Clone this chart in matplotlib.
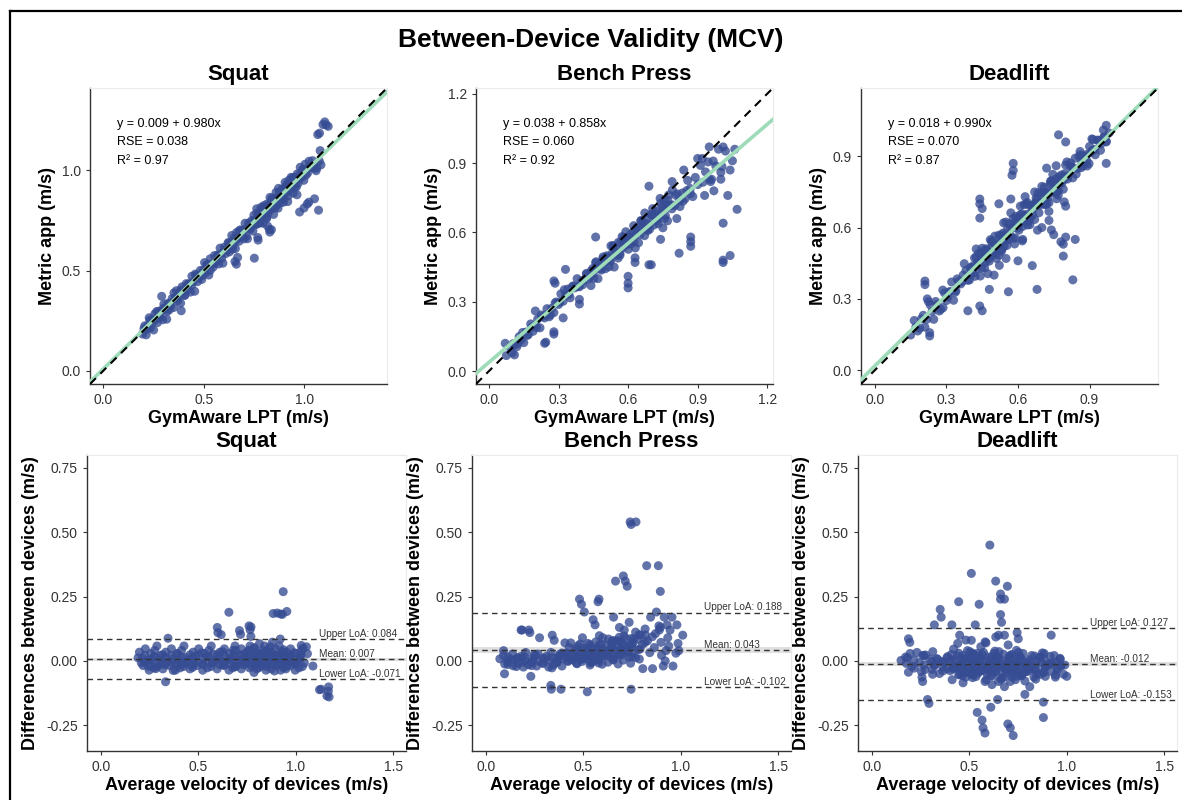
import numpy as np
import matplotlib
matplotlib.use('Agg')
import matplotlib.pyplot as plt
from matplotlib.lines import Line2D

plt.rcParams['font.family'] = ['Liberation Sans', 'DejaVu Sans']
plt.rcParams['axes.unicode_minus'] = False

POINT_COLOR = '#364C93'
FIT_COLOR = '#9DDBB9'
LINE_GRAY = '#333333'

exercises = ['Squat', 'Bench Press', 'Deadlift']

# mean concentric velocity (m/s): GymAware LPT vs Metric app
squat_gym = [0.196, 0.207, 0.214, 0.221, 0.229, 0.236, 0.244, 0.251, 0.257, 0.263, 0.270, 0.276, 0.283, 0.289, 0.296, 0.302, 0.309, 0.316, 0.322, 0.329,
             0.336, 0.343, 0.350, 0.357, 0.364, 0.371, 0.378, 0.385, 0.392, 0.399, 0.406, 0.413, 0.420, 0.427, 0.434, 0.441, 0.448, 0.455, 0.462, 0.469,
             0.476, 0.483, 0.490, 0.497, 0.504, 0.511, 0.518, 0.525, 0.532, 0.539, 0.546, 0.553, 0.560, 0.567, 0.574, 0.581, 0.588, 0.595, 0.602, 0.609,
             0.615, 0.621, 0.627, 0.633, 0.639, 0.645, 0.651, 0.657, 0.663, 0.669, 0.675, 0.681, 0.687, 0.693, 0.699, 0.705, 0.711, 0.717, 0.723, 0.729,
             0.734, 0.739, 0.744, 0.749, 0.754, 0.759, 0.764, 0.769, 0.774, 0.779, 0.784, 0.789, 0.794, 0.799, 0.804, 0.809, 0.814, 0.819, 0.824, 0.829,
             0.834, 0.839, 0.844, 0.849, 0.854, 0.859, 0.864, 0.869, 0.874, 0.879, 0.884, 0.889, 0.894, 0.899, 0.904, 0.909, 0.914, 0.919, 0.924, 0.929,
             0.934, 0.939, 0.944, 0.949, 0.954, 0.959, 0.964, 0.969, 0.974, 0.979, 0.985, 0.991, 0.997, 1.003, 1.009, 1.016, 1.023, 1.031, 1.040, 1.050,
             0.752, 0.763, 0.776, 0.787, 0.798, 0.812, 0.823, 0.836, 0.847, 0.858, 0.871, 0.882, 0.893, 0.906, 0.917, 0.928, 0.941, 0.952, 0.963, 0.976,
             0.553, 0.571, 0.589, 0.607, 0.624, 0.642, 0.659, 0.676, 0.694, 0.711, 0.728, 0.746, 0.762, 0.779, 0.796, 0.813, 0.830, 0.846, 0.863, 0.880,
             0.896, 0.912, 0.928, 0.944, 0.960, 0.976, 0.992, 1.008, 1.024, 1.040,
             0.203, 0.218, 0.232, 0.248, 0.266, 0.281, 0.299, 0.318, 0.333, 0.352, 0.368, 0.387, 0.404, 0.422, 0.440, 0.458, 0.477, 0.495, 0.514, 0.532,
             0.388, 0.291, 0.662, 0.655, 0.668, 0.828, 0.836, 0.770, 0.768, 0.751, 0.817, 0.826, 0.976, 0.998, 1.014, 1.022, 1.050, 1.070, 1.066, 1.075,
             1.092, 1.101, 1.108, 1.118, 1.058, 1.062, 1.074, 1.078, 1.082]
squat_app = [0.184, 0.225, 0.180, 0.225, 0.265, 0.215, 0.255, 0.204, 0.284, 0.258, 0.241, 0.298, 0.267, 0.297, 0.255, 0.333, 0.307, 0.258, 0.337, 0.305,
             0.324, 0.361, 0.316, 0.361, 0.400, 0.350, 0.389, 0.338, 0.419, 0.394, 0.377, 0.435, 0.404, 0.435, 0.393, 0.472, 0.446, 0.397, 0.477, 0.445,
             0.464, 0.501, 0.456, 0.501, 0.540, 0.490, 0.529, 0.478, 0.559, 0.534, 0.517, 0.575, 0.544, 0.575, 0.533, 0.612, 0.586, 0.537, 0.617, 0.585,
             0.603, 0.639, 0.593, 0.637, 0.675, 0.624, 0.662, 0.610, 0.690, 0.664, 0.646, 0.703, 0.671, 0.701, 0.658, 0.736, 0.709, 0.659, 0.738, 0.705,
             0.713, 0.750, 0.697, 0.776, 0.749, 0.730, 0.786, 0.753, 0.782, 0.738, 0.815, 0.787, 0.736, 0.814, 0.780, 0.797, 0.832, 0.785, 0.828, 0.865,
             0.805, 0.861, 0.828, 0.857, 0.813, 0.890, 0.862, 0.811, 0.889, 0.855, 0.872, 0.907, 0.860, 0.903, 0.940, 0.888, 0.925, 0.872, 0.951, 0.924,
             0.965, 0.937, 0.886, 0.964, 0.930, 0.947, 0.982, 0.935, 0.978, 1.015, 0.964, 1.002, 0.950, 1.030, 1.004, 0.987, 1.045, 1.015, 1.048, 1.009,
             0.749, 0.808, 0.738, 0.770, 0.824, 0.760, 0.815, 0.850, 0.780, 0.832, 0.910, 0.838, 0.882, 0.912, 0.844, 0.909, 0.962, 0.916, 0.878, 0.962,
             0.535, 0.577, 0.562, 0.604, 0.639, 0.606, 0.650, 0.697, 0.672, 0.670, 0.731, 0.732, 0.731, 0.791, 0.790, 0.765, 0.811, 0.854, 0.828, 0.869,
             0.841, 0.929, 0.902, 0.942, 0.917, 0.961, 1.002, 0.976, 1.017, 1.016,
             0.211, 0.207, 0.253, 0.244, 0.296, 0.265, 0.312, 0.296, 0.337, 0.389, 0.360, 0.404, 0.377, 0.431, 0.427, 0.483, 0.474, 0.476, 0.528, 0.501,
             0.300, 0.372, 0.532, 0.545, 0.566, 0.692, 0.704, 0.652, 0.665, 0.562, 0.722, 0.705, 0.792, 0.812, 0.832, 0.841, 0.858, 0.801, 1.178, 1.185,
             1.228, 1.241, 1.226, 1.219, 0.998, 1.012, 1.046, 1.098, 1.027]

bench_gym = [0.075, 0.090, 0.100, 0.110, 0.120, 0.130, 0.140, 0.150, 0.160, 0.170, 0.180, 0.190, 0.200, 0.210, 0.220, 0.230, 0.240, 0.250, 0.260, 0.270,
             0.280, 0.290, 0.300, 0.310, 0.320, 0.330, 0.340, 0.350, 0.360, 0.370, 0.380, 0.390, 0.400, 0.410, 0.420, 0.430, 0.440, 0.450, 0.460, 0.470,
             0.480, 0.491, 0.502, 0.513, 0.524, 0.535, 0.546, 0.557, 0.568, 0.579, 0.590,
             0.601, 0.611, 0.621, 0.631, 0.641, 0.651, 0.661, 0.671, 0.681, 0.691, 0.701, 0.711, 0.721, 0.731, 0.741, 0.751, 0.761, 0.771, 0.781, 0.791,
             0.505, 0.520, 0.535, 0.550, 0.565, 0.580, 0.595, 0.610, 0.625, 0.640, 0.655, 0.670, 0.685, 0.700, 0.715, 0.730, 0.745, 0.760, 0.775, 0.790,
             0.802, 0.813, 0.824, 0.835, 0.846, 0.857, 0.868, 0.879, 0.890, 0.901, 0.912, 0.923, 0.934, 0.945, 0.956, 0.967, 0.978, 0.990, 1.005, 1.020,
             0.405, 0.421, 0.437, 0.453, 0.469, 0.485, 0.501, 0.517, 0.533, 0.549, 0.565, 0.581, 0.597, 0.613, 0.629, 0.645, 0.661, 0.677, 0.693, 0.709,
             0.725, 0.741, 0.757, 0.773, 0.789, 0.805, 0.821, 0.837, 0.853, 0.869,
             0.448, 0.462, 0.476, 0.492, 0.508, 0.526, 0.542, 0.558, 0.574, 0.588, 0.606, 0.624, 0.638, 0.656, 0.672, 0.688, 0.706, 0.722, 0.738, 0.756,
             0.105, 0.125, 0.145, 0.165, 0.185, 0.205, 0.225, 0.245, 0.265, 0.285, 0.305, 0.325, 0.345, 0.365, 0.385,
             0.07, 0.11, 0.24, 0.245, 0.28, 0.28, 0.32, 0.28, 0.285, 0.33, 0.39, 0.39, 0.20, 0.46, 0.44, 0.47, 0.54, 0.60, 0.60, 0.60,
             0.63, 0.63, 0.69, 0.69, 0.70, 0.82, 0.87, 0.87, 0.87, 0.79, 0.84, 0.90, 0.92, 0.95, 1.01, 1.06, 1.05, 1.04, 1.00, 1.00,
             0.93, 0.97, 1.03, 1.01, 1.01, 1.01, 1.04, 1.07, 0.96, 0.95, 0.74, 0.75, 0.81, 0.77]
bench_app = [0.067, 0.102, 0.079, 0.113, 0.105, 0.149, 0.136, 0.123, 0.169, 0.158, 0.204, 0.172, 0.199, 0.225, 0.187, 0.236, 0.230, 0.270, 0.235, 0.271,
             0.253, 0.299, 0.288, 0.334, 0.302, 0.329, 0.355, 0.317, 0.366, 0.360, 0.400, 0.365, 0.391, 0.392, 0.422, 0.399, 0.433, 0.425, 0.469, 0.456,
             0.442, 0.485, 0.443, 0.493, 0.475, 0.540, 0.515, 0.489, 0.557, 0.535, 0.603,
             0.527, 0.564, 0.600, 0.533, 0.606, 0.590, 0.648, 0.586, 0.638, 0.633, 0.675, 0.632, 0.681, 0.662, 0.726, 0.700, 0.673, 0.740, 0.717, 0.784,
             0.493, 0.479, 0.543, 0.523, 0.510, 0.577, 0.559, 0.592, 0.559, 0.611, 0.651, 0.618, 0.608, 0.679, 0.669, 0.638, 0.711, 0.702, 0.762, 0.719,
             0.716, 0.767, 0.712, 0.771, 0.746, 0.825, 0.790, 0.755, 0.838, 0.807, 0.890, 0.817, 0.862, 0.905, 0.820, 0.909, 0.888, 0.960, 0.885, 0.952,
             0.374, 0.420, 0.409, 0.401, 0.453, 0.437, 0.474, 0.451, 0.513, 0.501, 0.501, 0.563, 0.548, 0.550, 0.587, 0.555, 0.620, 0.613, 0.614, 0.670,
             0.650, 0.677, 0.660, 0.720, 0.702, 0.761, 0.737, 0.735, 0.781, 0.768,
             0.444, 0.473, 0.461, 0.494, 0.499, 0.542, 0.521, 0.557, 0.582, 0.575, 0.579, 0.629, 0.620, 0.650, 0.684, 0.664, 0.703, 0.691, 0.747, 0.740,
             0.119, 0.119, 0.167, 0.154, 0.190, 0.188, 0.243, 0.242, 0.243, 0.294, 0.297, 0.352, 0.332, 0.369, 0.366,
             0.12, 0.07, 0.12, 0.125, 0.16, 0.17, 0.23, 0.39, 0.38, 0.44, 0.29, 0.31, 0.26, 0.58, 0.37, 0.40, 0.45, 0.41, 0.38, 0.36,
             0.49, 0.47, 0.80, 0.46, 0.46, 0.51, 0.58, 0.56, 0.54, 0.82, 0.87, 0.92, 0.92, 0.97, 0.97, 0.96, 0.91, 0.87, 0.83, 0.86,
             0.76, 0.78, 0.76, 0.64, 0.48, 0.47, 0.50, 0.70, 0.83, 0.83, 0.57, 0.62, 0.66, 0.65]

dead_gym = [0.150, 0.165, 0.180, 0.195, 0.210, 0.225, 0.240, 0.255, 0.270, 0.285, 0.300, 0.315, 0.330, 0.345, 0.360, 0.375, 0.390, 0.405, 0.420, 0.435,
            0.45, 0.46, 0.47, 0.48, 0.49, 0.50, 0.51, 0.52, 0.53, 0.54, 0.55, 0.56, 0.57, 0.58, 0.59, 0.60, 0.61, 0.62, 0.63, 0.64,
            0.65, 0.66, 0.67, 0.68, 0.69, 0.70, 0.71, 0.72, 0.73, 0.74, 0.75, 0.76, 0.77, 0.78, 0.79, 0.80, 0.81, 0.82, 0.83, 0.84,
            0.850, 0.862, 0.874, 0.886, 0.898, 0.910, 0.922, 0.934, 0.946, 0.958, 0.970, 0.982,
            0.425, 0.442, 0.458, 0.474, 0.490, 0.506, 0.522, 0.538, 0.554, 0.570, 0.586, 0.602, 0.618, 0.634, 0.650, 0.666, 0.682, 0.698, 0.714, 0.730,
            0.746, 0.762, 0.778, 0.794,
            0.310, 0.340, 0.370, 0.400, 0.430, 0.465, 0.495, 0.525, 0.555, 0.585, 0.615, 0.645, 0.675, 0.705, 0.735, 0.765, 0.795, 0.825, 0.865, 0.905,
            0.400, 0.412, 0.424, 0.436, 0.448, 0.460, 0.472, 0.484, 0.496, 0.508, 0.520, 0.532, 0.544, 0.556, 0.568, 0.580, 0.592, 0.604, 0.616, 0.628,
            0.640, 0.652, 0.664, 0.676, 0.688, 0.700, 0.712, 0.724, 0.736, 0.748, 0.760, 0.772, 0.784, 0.796, 0.808, 0.820, 0.832, 0.844, 0.856, 0.868,
            0.455, 0.467, 0.478, 0.489, 0.503, 0.515, 0.527, 0.541, 0.553, 0.565, 0.577, 0.589, 0.601, 0.613, 0.625,
            0.637, 0.649, 0.661, 0.673, 0.685, 0.697, 0.709, 0.721, 0.733, 0.745, 0.757, 0.769, 0.781, 0.793, 0.805,
            0.172, 0.188, 0.203, 0.218, 0.233, 0.262, 0.277, 0.292, 0.307, 0.322, 0.337, 0.352, 0.367, 0.382, 0.397, 0.412, 0.418, 0.427, 0.438, 0.446,
            0.876, 0.888, 0.900, 0.912, 0.924, 0.936, 0.948, 0.960, 0.890, 0.915,
            0.21, 0.21, 0.22, 0.23, 0.23, 0.247, 0.286, 0.39, 0.44, 0.44, 0.44, 0.44, 0.45, 0.45, 0.48, 0.50, 0.52, 0.56, 0.57, 0.58,
            0.58, 0.575, 0.60, 0.66, 0.68, 0.72, 0.74, 0.75, 0.76, 0.77, 0.78, 0.79, 0.79, 0.80, 0.80, 0.80, 0.83, 0.84, 0.97, 0.97,
            0.96, 0.97, 0.86, 0.88, 0.70, 0.73, 0.62, 0.55, 0.53, 0.51, 0.46, 0.61, 0.63, 0.54, 0.71, 0.67]
dead_app = [0.148, 0.209, 0.165, 0.216, 0.181, 0.288, 0.247, 0.289, 0.249, 0.337, 0.293, 0.331, 0.294, 0.384, 0.363, 0.448, 0.378, 0.432, 0.395, 0.492,
            0.513, 0.467, 0.504, 0.459, 0.542, 0.493, 0.526, 0.484, 0.569, 0.543, 0.623, 0.548, 0.597, 0.555, 0.647, 0.598, 0.654, 0.605, 0.651, 0.611,
            0.643, 0.676, 0.634, 0.719, 0.693, 0.773, 0.698, 0.747, 0.705, 0.797, 0.748, 0.804, 0.755, 0.801, 0.761, 0.863, 0.817, 0.854, 0.809, 0.892,
            0.848, 0.906, 0.859, 0.907, 0.869, 0.973, 0.929, 0.968, 0.925, 1.010, 0.963, 0.998,
            0.510, 0.396, 0.479, 0.406, 0.544, 0.494, 0.441, 0.577, 0.525, 0.662, 0.531, 0.610, 0.544, 0.700, 0.612, 0.697, 0.589, 0.745, 0.697, 0.668,
            0.824, 0.721, 0.790, 0.708,
            0.328, 0.334, 0.400, 0.402, 0.454, 0.454, 0.536, 0.534, 0.551, 0.621, 0.630, 0.627, 0.702, 0.710, 0.782, 0.756, 0.816, 0.858, 0.852, 0.916,
            0.431, 0.408, 0.476, 0.452, 0.429, 0.503, 0.479, 0.549, 0.485, 0.532, 0.568, 0.506, 0.556, 0.593, 0.567, 0.638, 0.612, 0.589, 0.657, 0.631,
            0.705, 0.641, 0.688, 0.724, 0.662, 0.712, 0.749, 0.723, 0.794, 0.768, 0.745, 0.813, 0.787, 0.827, 0.804, 0.872, 0.848, 0.825, 0.899, 0.875,
            0.474, 0.511, 0.470, 0.517, 0.564, 0.520, 0.563, 0.520, 0.566, 0.615, 0.599, 0.556, 0.641, 0.622, 0.696,
            0.656, 0.693, 0.653, 0.701, 0.746, 0.702, 0.745, 0.700, 0.746, 0.795, 0.779, 0.736, 0.821, 0.802, 0.876,
            0.182, 0.176, 0.231, 0.214, 0.274, 0.277, 0.256, 0.325, 0.309, 0.371, 0.328, 0.374, 0.373, 0.420, 0.380, 0.439, 0.472, 0.425, 0.456, 0.490,
            0.898, 0.882, 0.941, 0.924, 0.906, 0.966, 0.952, 0.979, 0.859, 0.970,
            0.36, 0.375, 0.30, 0.144, 0.158, 0.214, 0.263, 0.25, 0.72, 0.70, 0.64, 0.27, 0.25, 0.68, 0.34, 0.40, 0.70, 0.33, 0.72, 0.84,
            0.87, 0.82, 0.46, 0.44, 0.34, 0.85, 0.59, 0.57, 0.86, 0.99, 0.54, 0.53, 0.48, 0.96, 0.56, 0.69, 0.38, 0.55, 0.87, 1.03,
            0.98, 0.96, 0.92, 0.90, 0.60, 0.63, 0.55, 0.47, 0.50, 0.47, 0.43, 0.69, 0.73, 0.62, 0.77, 0.75]

# regression fits printed on the chart
intercepts = [0.009, 0.038, 0.018]
slopes = [0.980, 0.858, 0.990]
rse = [0.038, 0.060, 0.070]
r2 = [0.97, 0.92, 0.87]

# Bland-Altman summary printed on the chart
mean_diff = [0.007, 0.043, -0.012]
upper_loa = [0.084, 0.188, 0.127]
lower_loa = [-0.071, -0.102, -0.153]
mean_ci = [0.006, 0.011, 0.009]

top_lims = [(-0.065, 1.41), (-0.056, 1.225), (-0.058, 1.187)]
top_ticks = [[0.0, 0.5, 1.0], [0.0, 0.3, 0.6, 0.9, 1.2], [0.0, 0.3, 0.6, 0.9]]

gym = [np.array(squat_gym), np.array(bench_gym), np.array(dead_gym)]
app = [np.array(squat_app), np.array(bench_app), np.array(dead_app)]

W, H = 1182, 800
fig = plt.figure(figsize=(W / 100, H / 100), dpi=100)

def px_axes(left, top, width, height):
    return fig.add_axes([left / W, 1 - (top + height) / H, width / W, height / H])

def style(ax):
    for side in ['left', 'bottom']:
        ax.spines[side].set_color(LINE_GRAY)
        ax.spines[side].set_linewidth(1.0)
    for side in ['top', 'right']:
        ax.spines[side].set_color('#EBEBEB')
        ax.spines[side].set_linewidth(0.8)
    ax.tick_params(colors=LINE_GRAY, labelcolor='#333333', labelsize=10, length=3, width=0.8)

top_left = [90, 476, 861]
bot_left = [87, 472, 858]

for i in range(3):
    ax = px_axes(top_left[i], 88, 297, 296)
    style(ax)
    x, y = gym[i], app[i]
    ax.scatter(x, y, s=42, color=POINT_COLOR, alpha=0.78, edgecolors='none', zorder=2)
    ax.axline((0, intercepts[i]), slope=slopes[i], color=FIT_COLOR, lw=2.6, zorder=3)
    ax.axline((0, 0), slope=1, color='black', lw=1.5, ls=(0, (4, 3)), zorder=4)
    ax.set_xlim(*top_lims[i])
    ax.set_ylim(*top_lims[i])
    ax.set_xticks(top_ticks[i])
    ax.set_yticks(top_ticks[i])
    ax.xaxis.set_major_formatter('{x:.1f}')
    ax.yaxis.set_major_formatter('{x:.1f}')
    ax.set_title(exercises[i], fontsize=16, fontweight='bold', pad=6)
    ax.set_xlabel('GymAware LPT (m/s)', fontsize=13, fontweight='bold', labelpad=2)
    ax.set_ylabel('Metric app (m/s)', fontsize=13, fontweight='bold', labelpad=4)
    ax.text(0.09, 0.878, 'y = %.3f + %.3fx' % (intercepts[i], slopes[i]), transform=ax.transAxes,
            fontsize=9, va='center')
    ax.text(0.09, 0.818, 'RSE = %.3f' % rse[i], transform=ax.transAxes, fontsize=9, va='center')
    ax.text(0.09, 0.753, 'R\u00b2 = %.2f' % r2[i], transform=ax.transAxes, fontsize=9, va='center')

for i in range(3):
    ax = px_axes(bot_left[i], 455, 319, 296)
    style(ax)
    x, y = gym[i], app[i]
    avg = (x + y) / 2
    diff = x - y
    ax.axhspan(mean_diff[i] - mean_ci[i], mean_diff[i] + mean_ci[i], color='#D9D9D9', alpha=0.8, lw=0, zorder=1)
    ax.scatter(avg, diff, s=42, color=POINT_COLOR, alpha=0.78, edgecolors='none', zorder=2)
    for val, name in [(upper_loa[i], 'Upper LoA'), (mean_diff[i], 'Mean'), (lower_loa[i], 'Lower LoA')]:
        ax.axhline(val, color=LINE_GRAY, lw=1.0, ls=(0, (4, 3)), zorder=3)
        ax.text(1.12, val + 0.02, '%s: %.3f' % (name, val), fontsize=7.2, color='#333333', va='center')
    ax.set_xlim(-0.072, 1.566)
    ax.set_ylim(-0.35, 0.80)
    ax.set_xticks([0.0, 0.5, 1.0, 1.5])
    ax.set_yticks([-0.25, 0.0, 0.25, 0.50, 0.75])
    ax.xaxis.set_major_formatter('{x:.1f}')
    ax.yaxis.set_major_formatter('{x:.2f}')
    ax.set_title(exercises[i], fontsize=16, fontweight='bold', pad=6)
    ax.set_xlabel('Average velocity of devices (m/s)', fontsize=13, fontweight='bold', labelpad=2)
    ax.set_ylabel('Differences between devices (m/s)', fontsize=13, fontweight='bold', labelpad=5)

fig.text(0.5, 1 - 40 / H, 'Between-Device Validity (MCV)', fontsize=19, fontweight='bold',
         ha='center', va='center')

# black frame along the top and left edge
fig.add_artist(Line2D([10 / W, 1.0], [1 - 11 / H, 1 - 11 / H], color='black', lw=1.6))
fig.add_artist(Line2D([10 / W, 10 / W], [0.0, 1 - 11 / H], color='black', lw=1.6))

fig.savefig('out.png', dpi=100)
